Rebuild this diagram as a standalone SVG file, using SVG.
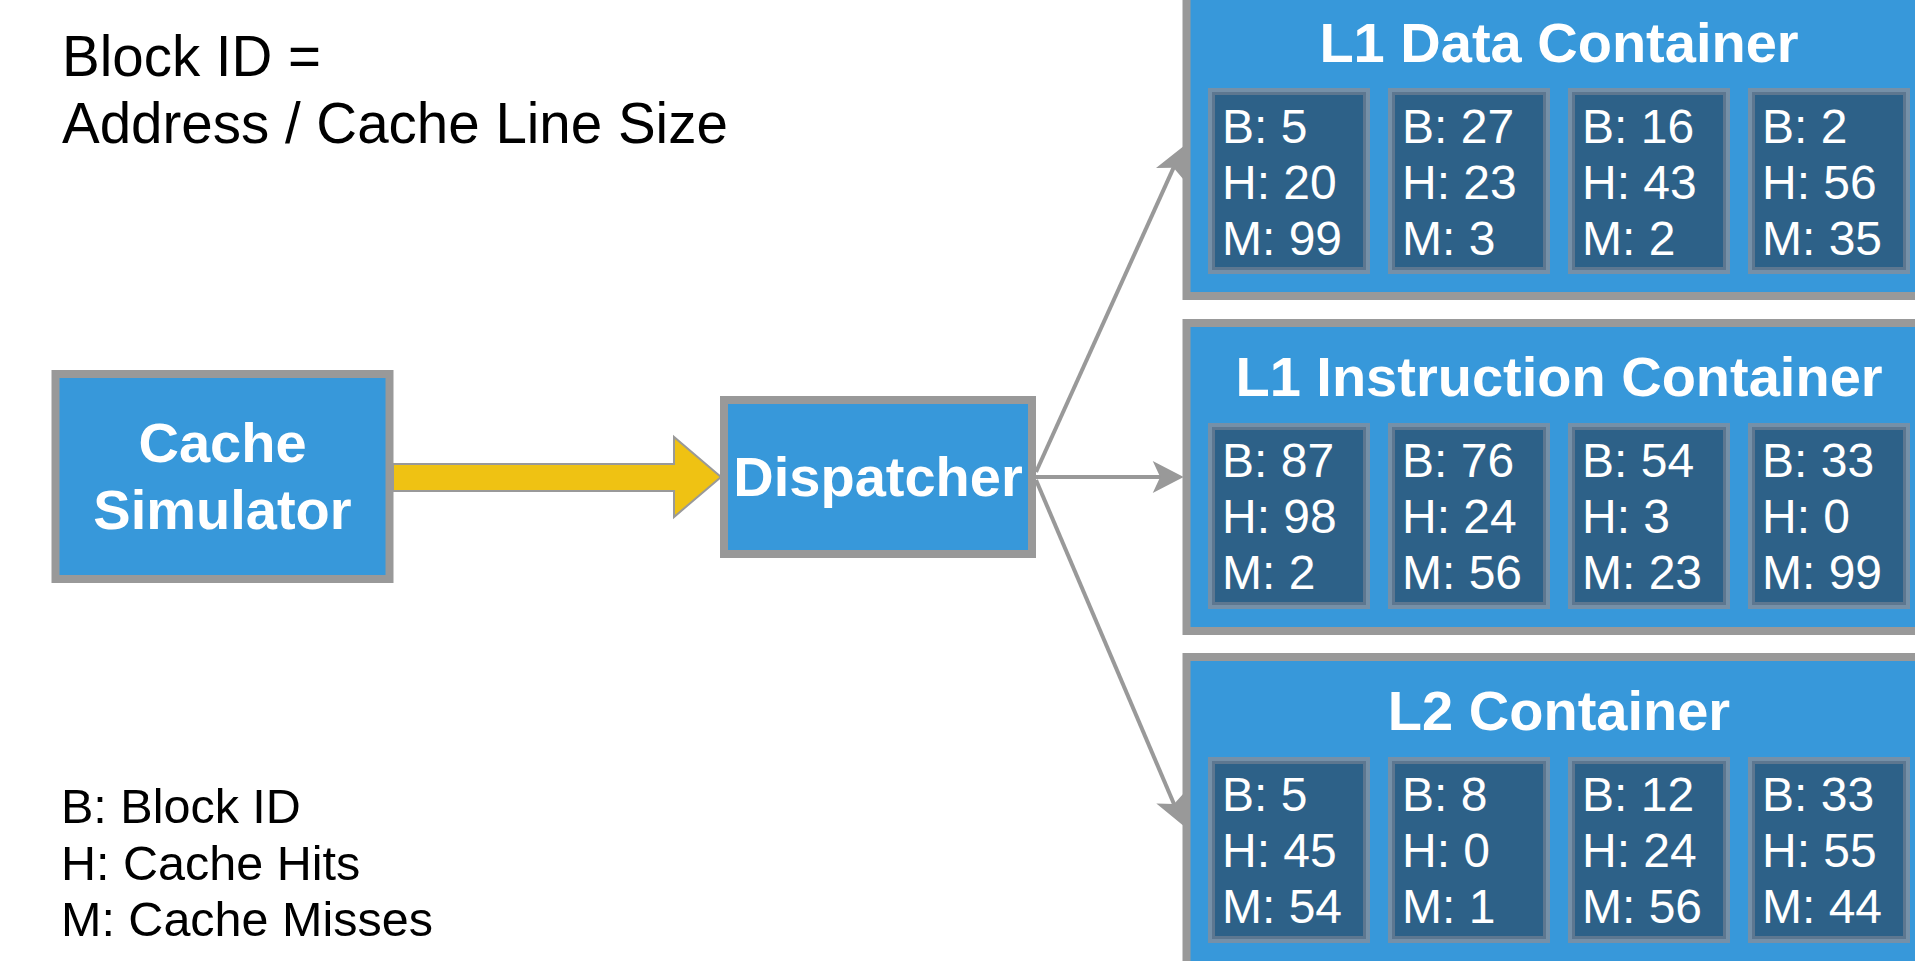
<svg xmlns="http://www.w3.org/2000/svg" width="1915" height="961" viewBox="0 0 1915 961">
<style>
.box{fill:#3798DA;stroke:#999999;stroke-width:8}
.nodet{font-family:"Liberation Sans",Arial,sans-serif;font-weight:bold;font-size:56px;fill:#ffffff;text-anchor:middle}
.cello{fill:#7590A8}
.celli{fill:#2D6188;stroke:#5D7790;stroke-width:3}
.cellt{font-family:"Liberation Sans",Arial,sans-serif;font-size:48px;fill:#ffffff}
.note{font-family:"Liberation Sans",Arial,sans-serif;fill:#000000}
.conn{fill:none;stroke:#999999;stroke-width:4}
</style>
<defs>
<marker id="ah" markerUnits="userSpaceOnUse" markerWidth="32" markerHeight="32" viewBox="0 0 30 30" refX="20" refY="15" orient="auto">
<path d="M30,15 L1,0 L8,15 L1,30 Z" fill="#999999"/>
</marker>
</defs>

<g id="notes">
<text class="note" x="62" y="76" font-size="56.5">Block ID =</text>
<text class="note" x="62" y="143" font-size="56.5">Address / Cache Line Size</text>
<text class="note" x="61" y="823" font-size="48.5">B: Block ID</text>
<text class="note" x="61" y="880" font-size="48.5">H: Cache Hits</text>
<text class="note" x="61" y="936" font-size="48.5">M: Cache Misses</text>
</g>

<g id="connectors">
<polygon points="393,464 674,464 674,437 721,477 674,517 674,491 393,491" fill="#EFC213" stroke="#999999" stroke-width="2"/>
<line class="conn" x1="1036" y1="472" x2="1178.8" y2="156.1" marker-end="url(#ah)"/>
<line class="conn" x1="1036" y1="477" x2="1173" y2="477" marker-end="url(#ah)"/>
<line class="conn" x1="1036" y1="480" x2="1179" y2="815.8" marker-end="url(#ah)"/>
</g>

<g id="cache-simulator">
<rect class="box" x="55.5" y="374" width="334" height="205"/>
<text class="nodet" x="222.5" y="462">Cache</text>
<text class="nodet" x="222.5" y="529">Simulator</text>
</g>

<g id="dispatcher">
<rect class="box" x="724" y="400" width="308" height="154"/>
<text class="nodet" x="878" y="496">Dispatcher</text>
</g>

<g id="l1-data-container">
<rect class="box" x="1186.5" y="-12" width="800" height="308"/>
<text class="nodet" x="1559" y="62">L1 Data Container</text>
<rect class="cello" x="1208" y="88" width="162" height="186"/><rect class="celli" x="1213.5" y="93.5" width="151" height="175"/>
<rect class="cello" x="1388" y="88" width="162" height="186"/><rect class="celli" x="1393.5" y="93.5" width="151" height="175"/>
<rect class="cello" x="1568" y="88" width="162" height="186"/><rect class="celli" x="1573.5" y="93.5" width="151" height="175"/>
<rect class="cello" x="1748" y="88" width="162" height="186"/><rect class="celli" x="1753.5" y="93.5" width="151" height="175"/>
<text class="cellt" x="1222" y="143">B: 5</text><text class="cellt" x="1222" y="199">H: 20</text><text class="cellt" x="1222" y="255">M: 99</text>
<text class="cellt" x="1402" y="143">B: 27</text><text class="cellt" x="1402" y="199">H: 23</text><text class="cellt" x="1402" y="255">M: 3</text>
<text class="cellt" x="1582" y="143">B: 16</text><text class="cellt" x="1582" y="199">H: 43</text><text class="cellt" x="1582" y="255">M: 2</text>
<text class="cellt" x="1762" y="143">B: 2</text><text class="cellt" x="1762" y="199">H: 56</text><text class="cellt" x="1762" y="255">M: 35</text>
</g>

<g id="l1-instruction-container">
<rect class="box" x="1186.5" y="323" width="800" height="308"/>
<text class="nodet" x="1559" y="396">L1 Instruction Container</text>
<rect class="cello" x="1208" y="423" width="162" height="186"/><rect class="celli" x="1213.5" y="428.5" width="151" height="175"/>
<rect class="cello" x="1388" y="423" width="162" height="186"/><rect class="celli" x="1393.5" y="428.5" width="151" height="175"/>
<rect class="cello" x="1568" y="423" width="162" height="186"/><rect class="celli" x="1573.5" y="428.5" width="151" height="175"/>
<rect class="cello" x="1748" y="423" width="162" height="186"/><rect class="celli" x="1753.5" y="428.5" width="151" height="175"/>
<text class="cellt" x="1222" y="477">B: 87</text><text class="cellt" x="1222" y="533">H: 98</text><text class="cellt" x="1222" y="589">M: 2</text>
<text class="cellt" x="1402" y="477">B: 76</text><text class="cellt" x="1402" y="533">H: 24</text><text class="cellt" x="1402" y="589">M: 56</text>
<text class="cellt" x="1582" y="477">B: 54</text><text class="cellt" x="1582" y="533">H: 3</text><text class="cellt" x="1582" y="589">M: 23</text>
<text class="cellt" x="1762" y="477">B: 33</text><text class="cellt" x="1762" y="533">H: 0</text><text class="cellt" x="1762" y="589">M: 99</text>
</g>

<g id="l2-container">
<rect class="box" x="1186.5" y="657" width="800" height="308"/>
<text class="nodet" x="1559" y="730">L2 Container</text>
<rect class="cello" x="1208" y="757" width="162" height="186"/><rect class="celli" x="1213.5" y="762.5" width="151" height="175"/>
<rect class="cello" x="1388" y="757" width="162" height="186"/><rect class="celli" x="1393.5" y="762.5" width="151" height="175"/>
<rect class="cello" x="1568" y="757" width="162" height="186"/><rect class="celli" x="1573.5" y="762.5" width="151" height="175"/>
<rect class="cello" x="1748" y="757" width="162" height="186"/><rect class="celli" x="1753.5" y="762.5" width="151" height="175"/>
<text class="cellt" x="1222" y="811">B: 5</text><text class="cellt" x="1222" y="867">H: 45</text><text class="cellt" x="1222" y="923">M: 54</text>
<text class="cellt" x="1402" y="811">B: 8</text><text class="cellt" x="1402" y="867">H: 0</text><text class="cellt" x="1402" y="923">M: 1</text>
<text class="cellt" x="1582" y="811">B: 12</text><text class="cellt" x="1582" y="867">H: 24</text><text class="cellt" x="1582" y="923">M: 56</text>
<text class="cellt" x="1762" y="811">B: 33</text><text class="cellt" x="1762" y="867">H: 55</text><text class="cellt" x="1762" y="923">M: 44</text>
</g>
</svg>
